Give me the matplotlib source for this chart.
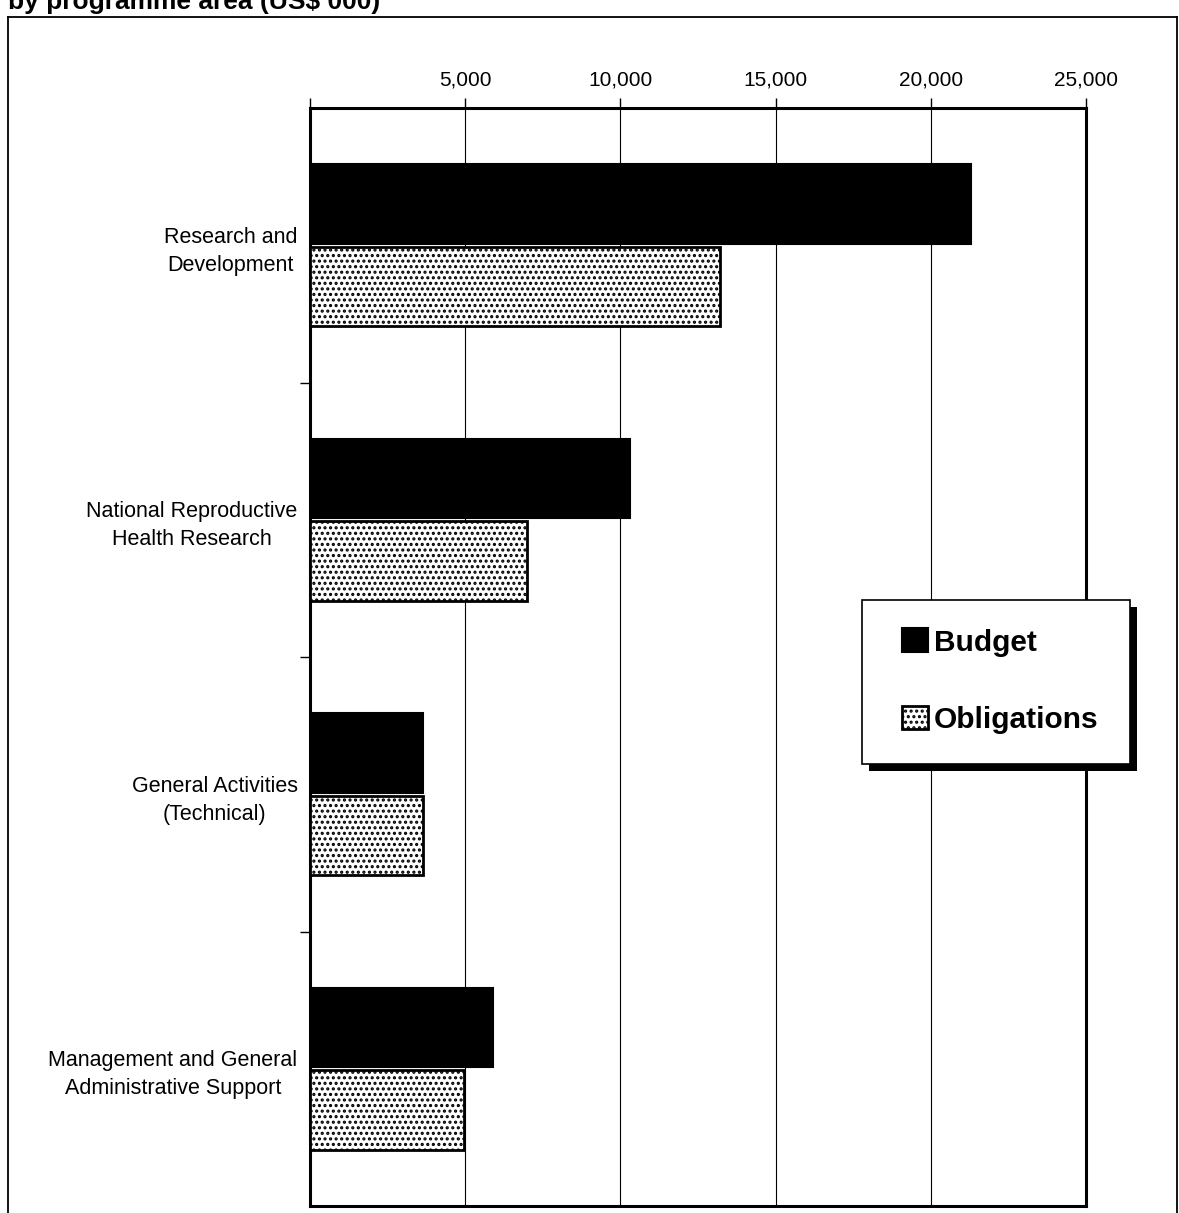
import matplotlib
matplotlib.use("Agg")
import matplotlib.pyplot as plt
from matplotlib.patches import Rectangle
from matplotlib.lines import Line2D
import numpy as np

plt.rcParams["font.family"] = ["Liberation Sans", "DejaVu Sans"]
plt.rcParams["hatch.linewidth"] = 1.5

# values (US$ thousands)
areas = [
    "Research and\nDevelopment",
    "National Reproductive\nHealth Research",
    "General Activities\n(Technical)",
    "Management and General\nAdministrative Support",
]
budget = [21300, 10300, 3650, 5900]
obligations = [13200, 7000, 3650, 4950]
xticks = [0, 5000, 10000, 15000, 20000, 25000]
xticklabels = ["", "5,000", "10,000", "15,000", "20,000", "25,000"]

W, H = 1179, 1213
fig = plt.figure(figsize=(W / 100, H / 100), dpi=100)

# heading, cut off at the top of the page as in the scan
fig.text(8 / W, 1 - 9 / H, "by programme area (US$ 000)", fontsize=19,
         fontweight="bold", ha="left", va="baseline")

# outer frame (bottom runs off the page)
for xs, ys in [([8, 8], [17, H + 5]), ([8, W - 2], [17, 17]), ([W - 2, W - 2], [17, H + 5])]:
    fig.add_artist(Line2D([x / W for x in xs], [1 - y / H for y in ys],
                          color="black", lw=1.3, transform=fig.transFigure))

ax = fig.add_axes([310 / W, 1 - 1206 / H, 776 / W, 1098 / H])
y = np.arange(len(areas))
h = 0.29
b1 = ax.barh(y - 0.15, budget, height=h, color="black", edgecolor="black",
             lw=1.5, label="Budget", zorder=3)
b2 = ax.barh(y + 0.15, obligations, height=h, color="white", edgecolor="black",
             hatch="...", lw=2, label="Obligations", zorder=3)

ax.set_xlim(0, 25000)
ax.set_ylim(3.5, -0.5)
ax.xaxis.tick_top()
ax.set_xticks(xticks)
ax.set_xticklabels(xticklabels, fontsize=15)
ax.tick_params(axis="x", direction="out", length=7, width=1, pad=6)
ax.grid(axis="x", color="black", lw=0.8, zorder=1)

ax.set_yticks(y)
ax.set_yticklabels(areas, fontsize=15.5, multialignment="center", linespacing=1.45)
ax.set_yticks([0.5, 1.5, 2.5], minor=True)
ax.tick_params(axis="y", which="major", length=0, pad=9)
ax.tick_params(axis="y", which="minor", direction="out", length=7, width=1)

for s in ax.spines.values():
    s.set_linewidth(2.2)

leg = ax.legend(handles=[b1, b2], loc="upper left",
                bbox_to_anchor=((874 - 310) / 776, 1 - (600 - 108) / 1098),
                borderaxespad=0, prop={"weight": "bold", "size": 21.5},
                handlelength=0.85, handleheight=0.85, handletextpad=0.2,
                labelspacing=1.64, borderpad=0.95, frameon=False)
leg.set_zorder(10)

# box and heavy drop shadow drawn by hand around the legend
fig.canvas.draw()
bb = leg.get_window_extent()
x0, w = bb.x0 - 12, bb.width + 15
box = Rectangle((x0, bb.y0 - 2), w, bb.height + 2, transform=None,
                facecolor="white", edgecolor="black", lw=1.2, zorder=9, clip_on=False)
shadow = Rectangle((x0 + 7, bb.y0 - 9), w, bb.height + 2, transform=None,
                   facecolor="black", edgecolor="none", zorder=8.5, clip_on=False)
ax.add_patch(shadow)
ax.add_patch(box)

fig.savefig("out.png", dpi=100)
